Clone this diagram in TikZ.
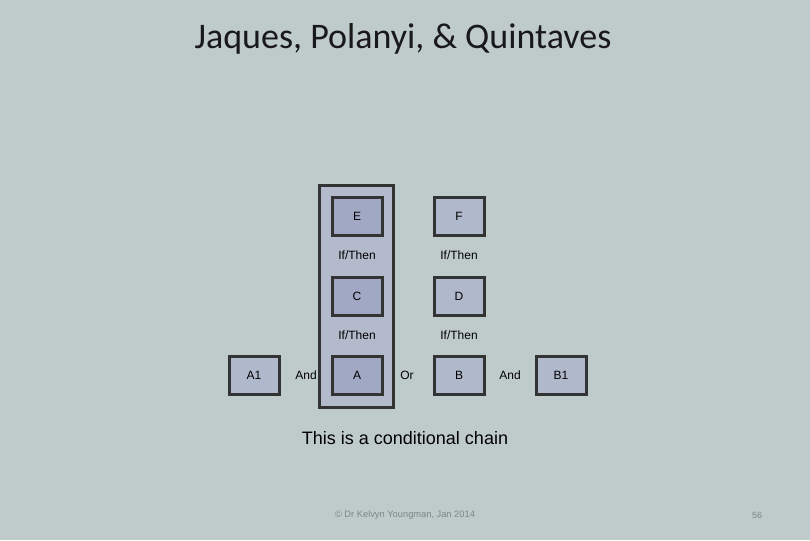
\documentclass[tikz,border=0pt]{standalone}
\usepackage{fontspec}
\setmainfont{Liberation Sans}
\newfontfamily\titlefont{Carlito}
\definecolor{bg}{HTML}{BFCBCB}
\definecolor{boxA}{HTML}{A0A8C4}
\definecolor{boxB}{HTML}{B0B8CC}
\definecolor{grp}{HTML}{B2BACC}
\definecolor{edge}{HTML}{333333}
\definecolor{foot}{HTML}{7F8585}
\begin{document}
\begin{tikzpicture}[x=1pt,y=-1pt,
  lbox/.style={draw=edge,line width=3pt,minimum width=50pt,minimum height=38pt,inner sep=0pt,font=\fontsize{12}{14}\selectfont},
  inbox/.style={lbox,fill=boxA},
  outbox/.style={lbox,fill=boxB},
  word/.style={font=\fontsize{12}{14}\selectfont,text=black,inner sep=0pt}]
\fill[bg] (0,0) rectangle (810,540);
\useasboundingbox (0,0) rectangle (810,540);
\node[font=\titlefont\fontsize{36}{42}\selectfont,text=black!90] (title) at (403,39) {Jaques, Polanyi, \& Quintaves};
\node[draw=edge,line width=3pt,fill=grp,minimum width=74pt,minimum height=222pt,inner sep=0pt] (grp) at (356,296) {};
\node[inbox] (E) at (357,216) {E};
\node[outbox] (F) at (459,216) {F};
\node[word] (t1) at (357,255) {If/Then};
\node[word] (t2) at (459,255) {If/Then};
\node[inbox] (C) at (357,296) {C};
\node[outbox] (D) at (459,296) {D};
\node[word] (t3) at (357,335) {If/Then};
\node[word] (t4) at (459,335) {If/Then};
\node[inbox] (A) at (357,375) {A};
\node[outbox] (B) at (459,375) {B};
\node[outbox] (A1) at (254,375) {A1};
\node[outbox] (B1) at (561,375) {B1};
\node[word] (and1) at (306,375) {And};
\node[word] (or) at (407,375) {Or};
\node[word] (and2) at (510,375) {And};
\node[font=\fontsize{18}{22}\selectfont] (cap) at (405,438) {This is a conditional chain};
\node[font=\fontsize{9.3}{11}\selectfont,text=foot] (ft) at (405,515) {© Dr Kelvyn Youngman, Jan 2014};
\node[font=\fontsize{9}{11}\selectfont,text=foot] (pg) at (757,515) {56};
\end{tikzpicture}
\end{document}
